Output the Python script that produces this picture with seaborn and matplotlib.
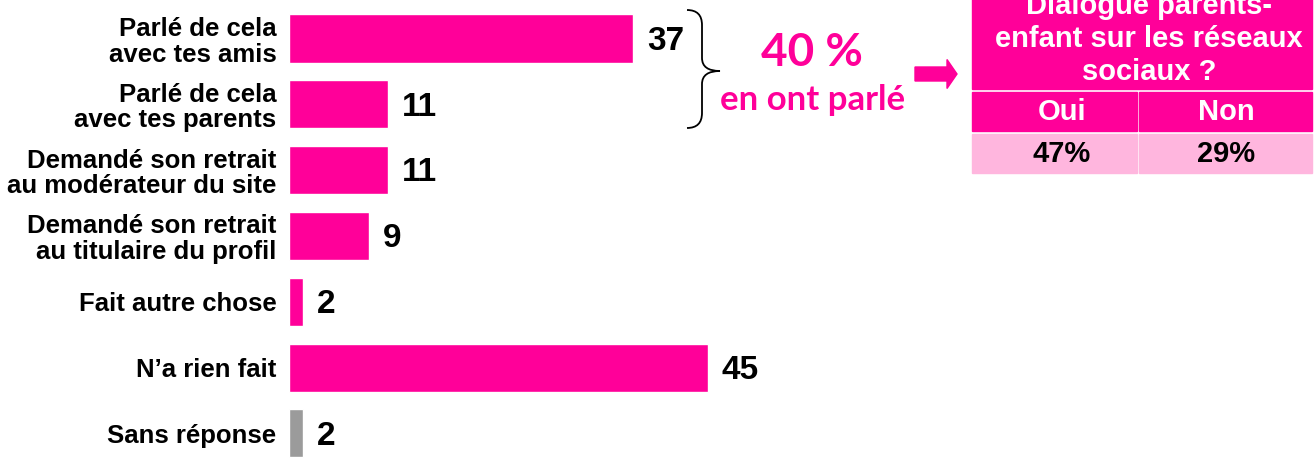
import numpy as np
import pandas as pd
import seaborn as sns
import matplotlib.pyplot as plt
from matplotlib.patches import Rectangle, FancyArrow, PathPatch
from matplotlib.path import Path

categories = ["Parlé de cela\navec tes amis",
              "Parlé de cela\navec tes parents",
              "Demandé son retrait\nau modérateur du site",
              "Demandé son retrait\nau titulaire du profil",
              "Fait autre chose",
              "N\u2019a rien fait",
              "Sans réponse"]
values = [37, 10.6, 10.6, 8.6, 1.5, 45, 1.5]
value_labels = ["37", "11", "11", "9", "2", "45", "2"]
bar_colors = ["#FF0099"] * 6 + ["#9B9B9B"]

table_title = ["Dialogue parents-", "enfant sur les réseaux", "sociaux ?"]
table_cols = ["Oui", "Non"]
table_vals = ["47%", "29%"]

pink = "#FF0099"
light_pink = "#FFB6DE"
arial = ['Liberation Sans', 'DejaVu Sans']
round_font = ['Lato', 'DejaVu Sans']

sns.set_style("white")
plt.rcParams['font.family'] = arial
plt.rcParams['text.color'] = 'black'
plt.rcParams['ytick.color'] = 'black'

W, H = 1316, 458
fig = plt.figure(figsize=(W / 100, H / 100), dpi=100)
ax = fig.add_axes([289 / W, 0, 1 - 289 / W, 1])

df = pd.DataFrame({"cat": categories, "val": values})
sns.barplot(data=df, x="val", y="cat", hue="cat", palette=bar_colors,
            saturation=1, legend=False, width=0.73, ax=ax, orient="h")
ax.set_xlim(0, (W - 289) / 9.3)
ax.set_ylim(6.375, -0.585)
sns.despine(ax=ax, left=True, bottom=True)
ax.set_xticks([])
ax.set_xlabel("")
ax.set_ylabel("")
ax.tick_params(axis='y', length=0, pad=9)
ax.set_yticks(range(len(categories)))
ax.set_yticklabels(categories, fontsize=18.5, fontweight='bold', linespacing=1.08,
                   family=arial, color='black')

for i, (v, lab) in enumerate(zip(values, value_labels)):
    ax.annotate(lab, (v, i), xytext=(10, -2), textcoords='offset points',
                va='center', ha='left', fontsize=24, fontweight='bold',
                family=arial, color='black')


def px(x, y):
    return x / W, 1 - y / H


# brace
verts = [px(687, 10), px(702, 10), px(702, 25), px(702, 58),
         px(702, 71), px(720, 71),
         px(702, 71), px(702, 84), px(702, 113),
         px(702, 128), px(687, 128)]
codes = [Path.MOVETO, Path.CURVE3, Path.CURVE3, Path.LINETO,
         Path.CURVE3, Path.CURVE3,
         Path.CURVE3, Path.CURVE3, Path.LINETO,
         Path.CURVE3, Path.CURVE3]
fig.patches.append(PathPatch(Path(verts, codes), transform=fig.transFigure,
                             fill=False, lw=1.3, color='black'))

fig.text(*px(812, 53), "40 %", color=pink, fontsize=33, fontweight='bold',
         family=round_font, ha='center', va='center')
fig.text(*px(813, 100), "en ont parlé", color=pink, fontsize=25, fontweight='bold',
         family=round_font, ha='center', va='center')

# arrow
x0, y0 = px(915, 74)
fig.patches.append(FancyArrow(x0, y0, 42 / W, 0, width=14 / H, head_width=29 / H,
                              head_length=10 / W, length_includes_head=True,
                              color=pink, transform=fig.transFigure))

# table
tl, tr, tm = 972, 1312, 1138
fig.patches.append(Rectangle(px(tl, 89), (tr - tl) / W, 100 / H,
                             color=pink, transform=fig.transFigure))
col_centers = [1062, 1226]
for j, (a, b) in enumerate([(tl, tm), (tm, tr)]):
    fig.patches.append(Rectangle(px(a + (1 if j else 0), 131), (b - a - 1) / W, 39 / H,
                                 color=pink, transform=fig.transFigure))
    fig.patches.append(Rectangle(px(a + (1 if j else 0), 173), (b - a - 1) / W, 39 / H,
                                 color=light_pink, transform=fig.transFigure))
    fig.text(*px(col_centers[j], 112), table_cols[j], color='white', fontsize=21,
             fontweight='bold', ha='center', va='center', family=arial)
    fig.text(*px(col_centers[j], 154), table_vals[j], color='black', fontsize=21,
             fontweight='bold', ha='center', va='center', family=arial)
for k, line in enumerate(table_title):
    fig.text(*px(1149, 6 + 33 * k), line, color='white', fontsize=21,
             fontweight='bold', ha='center', va='center', family=arial)

fig.savefig("out.png", dpi=100)
